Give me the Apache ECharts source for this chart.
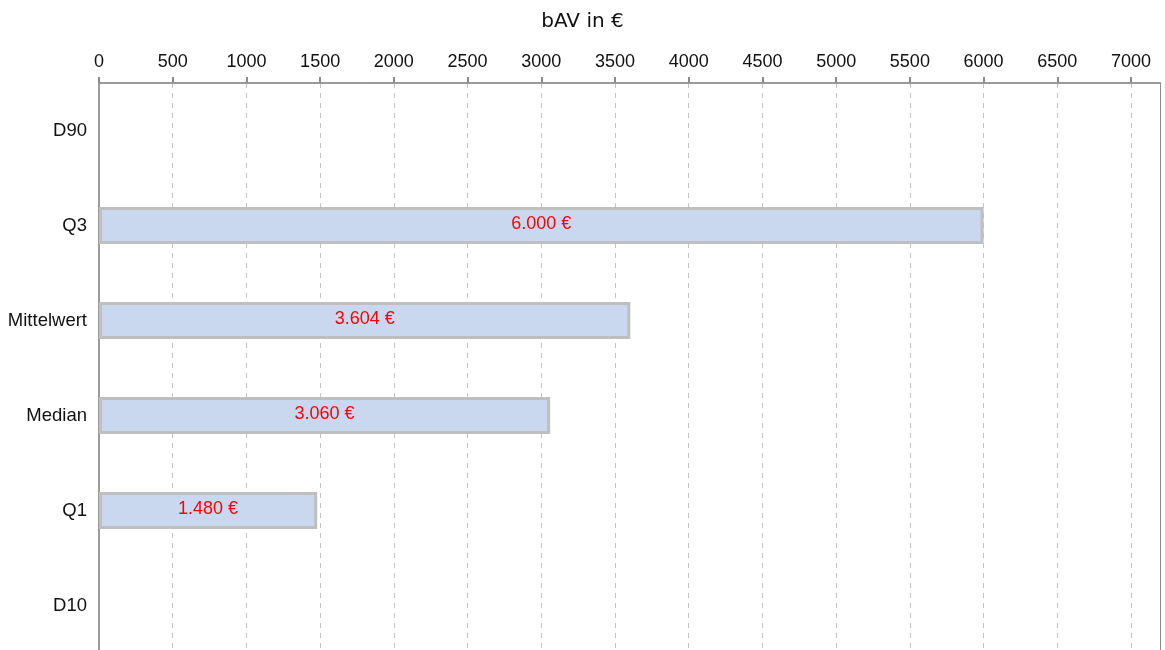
<!DOCTYPE html>
<html>
<head>
<meta charset="utf-8">
<script src="https://cdn.jsdelivr.net/npm/echarts@6/dist/echarts.min.js"></script>
<style>
html,body{margin:0;padding:0;background:#fff;}
#chart{width:1165px;height:650px;}
</style>
</head>
<body>
<div id="chart"></div>
<script>
// Data
var categories = ['D90', 'Q3', 'Mittelwert', 'Median', 'Q1', 'D10'];
var values = [null, 6000, 3604, 3060, 1480, null];
var tickLabels = [0, 500, 1000, 1500, 2000, 2500, 3000, 3500, 4000, 4500, 5000, 5500, 6000, 6500, 7000];
var axisMax = 7200;
var titleText = 'bAV in \u20ac';

function fmtDE(v) {
  var s = String(Math.round(v));
  var out = '';
  while (s.length > 3) {
    out = '.' + s.slice(-3) + out;
    s = s.slice(0, -3);
  }
  return s + out + ' \u20ac';
}

var chart = echarts.init(document.getElementById('chart'), null, {renderer: 'canvas'});
chart.setOption({
  animation: false,
  backgroundColor: '#ffffff',
  textStyle: {fontFamily: 'Liberation Sans, Arial, sans-serif'},
  title: {
    text: titleText,
    left: 'center',
    top: 7,
    textStyle: {fontFamily: 'DejaVu Sans, sans-serif', fontSize: 20, fontWeight: 'normal', color: '#111111'}
  },
  grid: {
    left: 99, width: 1061.5, top: 83, height: 570,
    outerBoundsMode: 'none',
    containLabel: false,
    show: true, borderColor: '#8c8c8c', borderWidth: 1, backgroundColor: 'transparent'
  },
  xAxis: {
    type: 'value',
    position: 'top',
    min: 0,
    max: axisMax,
    interval: 500,
    axisLine: {show: true, lineStyle: {color: '#8c8c8c', width: 1.5}},
    axisTick: {show: true, length: 6, customValues: tickLabels, lineStyle: {color: '#8c8c8c', width: 2}},
    axisLabel: {
      customValues: tickLabels,
      margin: 12,
      fontSize: 18,
      color: '#111111',
      fontFamily: 'Liberation Sans, Arial, sans-serif',
      formatter: function (v) { return String(v); }
    },
    splitLine: {show: true, lineStyle: {color: '#c4c4c4', width: 1, type: [5, 5]}}
  },
  yAxis: {
    type: 'category',
    data: categories,
    inverse: true,
    axisLine: {show: true, lineStyle: {color: '#9a9a9a', width: 2}},
    axisTick: {show: false},
    axisLabel: {
      margin: 12,
      fontSize: 18.5,
      color: '#111111',
      fontFamily: 'Liberation Sans, Arial, sans-serif'
    },
    splitLine: {show: false}
  },
  series: [{
    type: 'bar',
    data: values,
    barWidth: 37,
    itemStyle: {color: '#c9d8ee', borderColor: '#bfbfbf', borderWidth: 3},
    label: {
      show: true,
      position: 'inside',
      color: '#ff0000',
      fontSize: 18,
      fontFamily: 'Liberation Sans, Arial, sans-serif',
      offset: [0, -1],
      formatter: function (p) { return p.value == null ? '' : fmtDE(p.value); }
    }
  }]
});
</script>
</body>
</html>
